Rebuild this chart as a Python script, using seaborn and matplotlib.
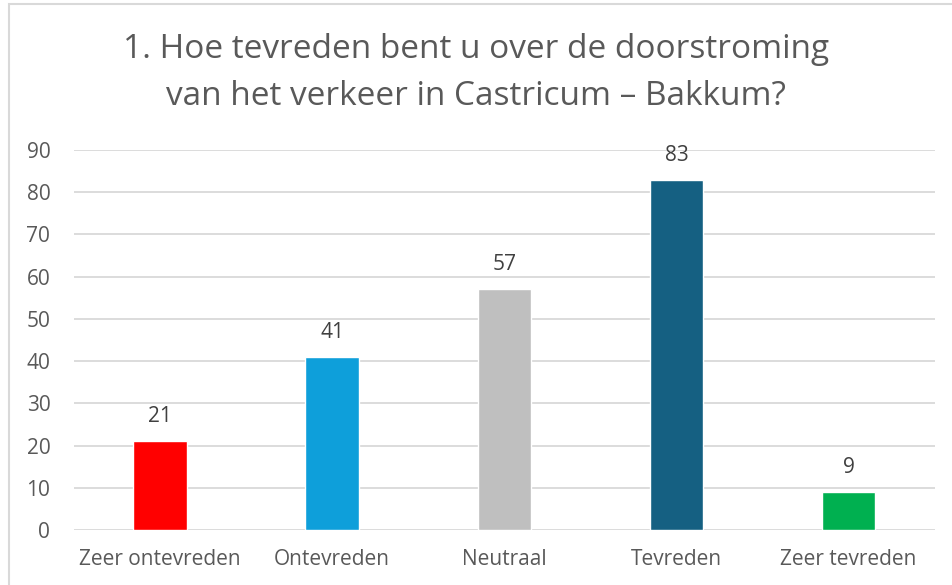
import matplotlib
matplotlib.use("Agg")
import matplotlib.pyplot as plt
from matplotlib.patches import Rectangle
import seaborn as sns
import pandas as pd

# Data
categories = ["Zeer ontevreden", "Ontevreden", "Neutraal", "Tevreden", "Zeer tevreden"]
counts = [21, 41, 57, 83, 9]
colors = ["#FF0000", "#0E9FDA", "#BFBFBF", "#156082", "#00B050"]
title = "1. Hoe tevreden bent u over de doorstroming\nvan het verkeer in Castricum \u2013 Bakkum?"

df = pd.DataFrame({"cat": categories, "n": counts})

sns.set_theme(style="white")
plt.rcParams["font.family"] = ["Open Sans", "DejaVu Sans"]
txt = "#595959"

fig = plt.figure(figsize=(9.52, 5.85), dpi=100)
ax = fig.add_axes([0.0777, 0.094, 0.904, 0.6496])

sns.barplot(data=df, x="cat", y="n", hue="cat", palette=colors, legend=False,
            width=0.31, saturation=1, ax=ax, zorder=3)

ax.set_ylim(0, 90)
ax.set_yticks(range(0, 91, 10))
ax.yaxis.grid(True, color="#D9D9D9", linewidth=1.3, zorder=0)
ax.set_axisbelow(True)
for s in ax.spines.values():
    s.set_visible(False)
ax.set_xlabel("")
ax.set_ylabel("")
ax.tick_params(axis="both", length=0, labelsize=15, labelcolor=txt)
ax.tick_params(axis="x", pad=14)
ax.tick_params(axis="y", pad=17)

for cont in ax.containers:
    ax.bar_label(cont, padding=10, fontsize=15, color="#404040")

fig.text(0.5, 0.876, title, ha="center", va="center", fontsize=24,
         color=txt, linespacing=1.56)

# chart border
fig.patches.append(Rectangle((9 / 952, -0.1), 1.2, (585 - 4) / 585 + 0.1,
                             transform=fig.transFigure, fill=False,
                             edgecolor="#D9D9D9", linewidth=1.5))

fig.savefig("out.png", dpi=100)
